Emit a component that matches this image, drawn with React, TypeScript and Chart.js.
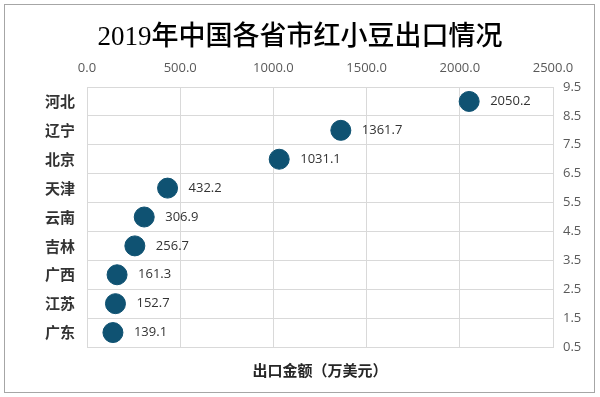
import React, { useEffect, useRef } from "react";
import { Chart, registerables } from "chart.js";

Chart.register(...registerables);

const titleText = "2019年中国各省市红小豆出口情况";
const axisTitle = "出口金额（万美元）";
const provinces = ["广东", "江苏", "广西", "吉林", "云南", "天津", "北京", "辽宁", "河北"];
const exportValues = [139.1, 152.7, 161.3, 256.7, 306.9, 432.2, 1031.1, 1361.7, 2050.2];
const xTicks = [0, 500, 1000, 1500, 2000, 2500];
const yTicks = [0.5, 1.5, 2.5, 3.5, 4.5, 5.5, 6.5, 7.5, 8.5, 9.5];

const GRID = "#d9d9d9";
const DOT = "#0f5272";
const NUM_FONT = "'Open Sans', 'Liberation Sans', sans-serif";
const CJK_FONT = "'Noto Sans CJK SC', sans-serif";

const framePlugin = {
  id: "frame",
  beforeDraw(chart: any) {
    const ctx = chart.ctx;
    ctx.save();
    ctx.fillStyle = "#ffffff";
    ctx.fillRect(0, 0, chart.width, chart.height);
    ctx.strokeStyle = "#a6a6a6";
    ctx.lineWidth = 1;
    ctx.strokeRect(4.5, 4.5, 590, 388);
    ctx.restore();
  },
};

const labelPlugin = {
  id: "valueLabels",
  afterDatasetsDraw(chart: any) {
    const ctx = chart.ctx;
    const meta = chart.getDatasetMeta(0);
    ctx.save();
    ctx.fillStyle = "#333333";
    ctx.font = `13px ${NUM_FONT}`;
    ctx.textAlign = "left";
    ctx.textBaseline = "middle";
    meta.data.forEach((pt: any, i: number) => {
      ctx.fillText(exportValues[i].toFixed(1), pt.x + 21, pt.y);
    });
    ctx.restore();
  },
};

export default function App() {
  const ref = useRef<HTMLCanvasElement | null>(null);
  useEffect(() => {
    if (!ref.current) return;
    const chart = new Chart(ref.current, {
      type: "scatter",
      data: {
        datasets: [
          {
            data: exportValues.map((v, i) => ({ x: v, y: i + 1 })),
            backgroundColor: DOT,
            borderColor: DOT,
            pointRadius: 10,
            pointHoverRadius: 10,
            xAxisID: "x",
            yAxisID: "y",
          },
        ],
      },
      options: {
        responsive: false,
        animation: false,
        layout: { padding: { top: 0, left: 0, right: 0, bottom: 0 } },
        plugins: {
          legend: { display: false },
          tooltip: { enabled: false },
          title: {
            display: true,
            text: titleText,
            color: "#000000",
            font: { size: 27, weight: "500", family: "'Liberation Serif', 'Noto Sans CJK SC', serif" },
            padding: { top: 22, bottom: 4 },
          },
        },
        scales: {
          x: {
            type: "linear",
            position: "top",
            min: 0,
            max: 2500,
            afterBuildTicks: (s: any) => {
              s.ticks = xTicks.map((v) => ({ value: v }));
            },
            afterFit: (s: any) => {
              s.height = 28.6;
            },
            ticks: {
              color: "#595959",
              font: { size: 13, family: NUM_FONT },
              padding: 11,
              callback: (v: any) => Number(v).toFixed(1),
            },
            grid: { color: GRID, drawTicks: false },
            border: { color: GRID },
          },
          xb: {
            type: "linear",
            position: "bottom",
            min: 0,
            max: 2500,
            afterFit: (s: any) => {
              s.height = 50;
            },
            ticks: { display: false },
            grid: { display: false },
            border: { display: false },
            title: {
              display: true,
              text: axisTitle,
              color: "#262626",
              font: { size: 15, weight: "bold", family: CJK_FONT },
              padding: { top: 0, bottom: 18 },
            },
          },
          y: {
            type: "linear",
            position: "right",
            min: 0.5,
            max: 9.5,
            afterBuildTicks: (s: any) => {
              s.ticks = yTicks.map((v) => ({ value: v }));
            },
            afterFit: (s: any) => {
              s.width = 47;
            },
            ticks: {
              color: "#595959",
              font: { size: 13, family: NUM_FONT },
              padding: 10,
              callback: (v: any) => Number(v).toFixed(1),
            },
            grid: { color: GRID, drawTicks: false },
            border: { color: GRID },
          },
          yl: {
            type: "linear",
            position: "left",
            min: 0.5,
            max: 9.5,
            afterBuildTicks: (s: any) => {
              s.ticks = provinces.map((_, i) => ({ value: i + 1 }));
            },
            afterFit: (s: any) => {
              s.width = 87;
            },
            ticks: {
              color: "#333333",
              font: { size: 15, weight: "bold", family: CJK_FONT },
              padding: 12,
              callback: (v: any) => provinces[Math.round(Number(v)) - 1] ?? "",
            },
            grid: { display: false, drawTicks: false },
            border: { display: false },
          },
        },
      } as any,
      plugins: [framePlugin, labelPlugin],
    });
    return () => chart.destroy();
  }, []);
  return (
    <div style={{ position: "fixed", left: 0, top: 0, width: 600, height: 397, background: "#fff" }}>
      <canvas ref={ref} width={600} height={397} />
    </div>
  );
}
